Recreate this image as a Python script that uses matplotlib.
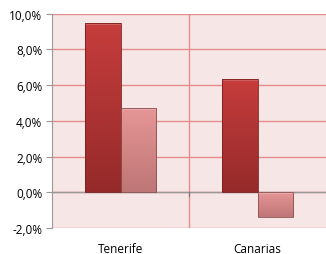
import matplotlib
matplotlib.use("Agg")
import matplotlib.pyplot as plt
import numpy as np
from matplotlib.ticker import FuncFormatter
from matplotlib.colors import LinearSegmentedColormap

categories = ["Tenerife", "Canarias"]
series_a = [9.48, 6.35]
series_b = [4.73, -1.37]
yticks = [-2, 0, 2, 4, 6, 8, 10]

plt.rcParams['font.family'] = ['Open Sans', 'DejaVu Sans']

fig = plt.figure(figsize=(3.26, 2.55), dpi=100)
ax = fig.add_axes([52/326, 26/255, (326-52)/326, (229-14.7)/255])
ax.set_facecolor('#f7e6e6')

x = np.arange(len(categories))
w = 0.26
cmap_a = LinearSegmentedColormap.from_list('a', ['#c63d3d', '#962a2a'])
cmap_b = LinearSegmentedColormap.from_list('b', ['#e69696', '#bf7676'])

def grad_bars(xs, vals, cmap, edge):
    bars = ax.bar(xs, vals, width=w, color='none', edgecolor=edge, linewidth=0.6, zorder=3)
    for b in bars:
        x0, y0 = b.get_x(), b.get_y()
        bw, bh = b.get_width(), b.get_height()
        ylo, yhi = min(y0, y0 + bh), max(y0, y0 + bh)
        grad = np.linspace(0, 1, 100).reshape(-1, 1)
        im = ax.imshow(grad, aspect='auto', cmap=cmap, extent=(x0, x0 + bw, ylo, yhi),
                       origin='upper', zorder=2)
        im.set_clip_path(b)
        ax.fill_between([x0, x0 + bw], yhi - 0.12, yhi, color='white', alpha=0.18, zorder=2.5, lw=0)
    return bars

grad_bars(x - w/2, series_a, cmap_a, '#7a1e1e')
grad_bars(x + w/2, series_b, cmap_b, '#8a5050')

ax.set_xlim(-0.5, 1.5)
ax.set_ylim(-2, 10)
ax.set_yticks(yticks)
ax.yaxis.set_major_formatter(FuncFormatter(lambda v, p: f"{v:.1f}%".replace('.', ',')))
ax.set_xticks(x)
ax.set_xticklabels(categories)
ax.tick_params(axis='x', length=0, pad=10, labelsize=8.5)
ax.tick_params(axis='y', length=4, width=0.8, color='#999999', labelsize=8.5, pad=3)

for yv in yticks:
    ax.axhline(yv, color='#e58c8c', lw=1.0, zorder=1)
ax.axvline(0.5, color='#e58c8c', lw=1.0, zorder=1)
ax.axhline(0, color='#999999', lw=1.0, zorder=1.5)
ax.plot([0.5, 0.5], [0, -0.2], color='#777777', lw=0.8, zorder=1.6)

for s in ['top', 'right', 'bottom']:
    ax.spines[s].set_visible(False)
ax.spines['left'].set_color('#999999')
ax.spines['left'].set_linewidth(0.8)

fig.savefig('out.png', dpi=100, facecolor='white')
